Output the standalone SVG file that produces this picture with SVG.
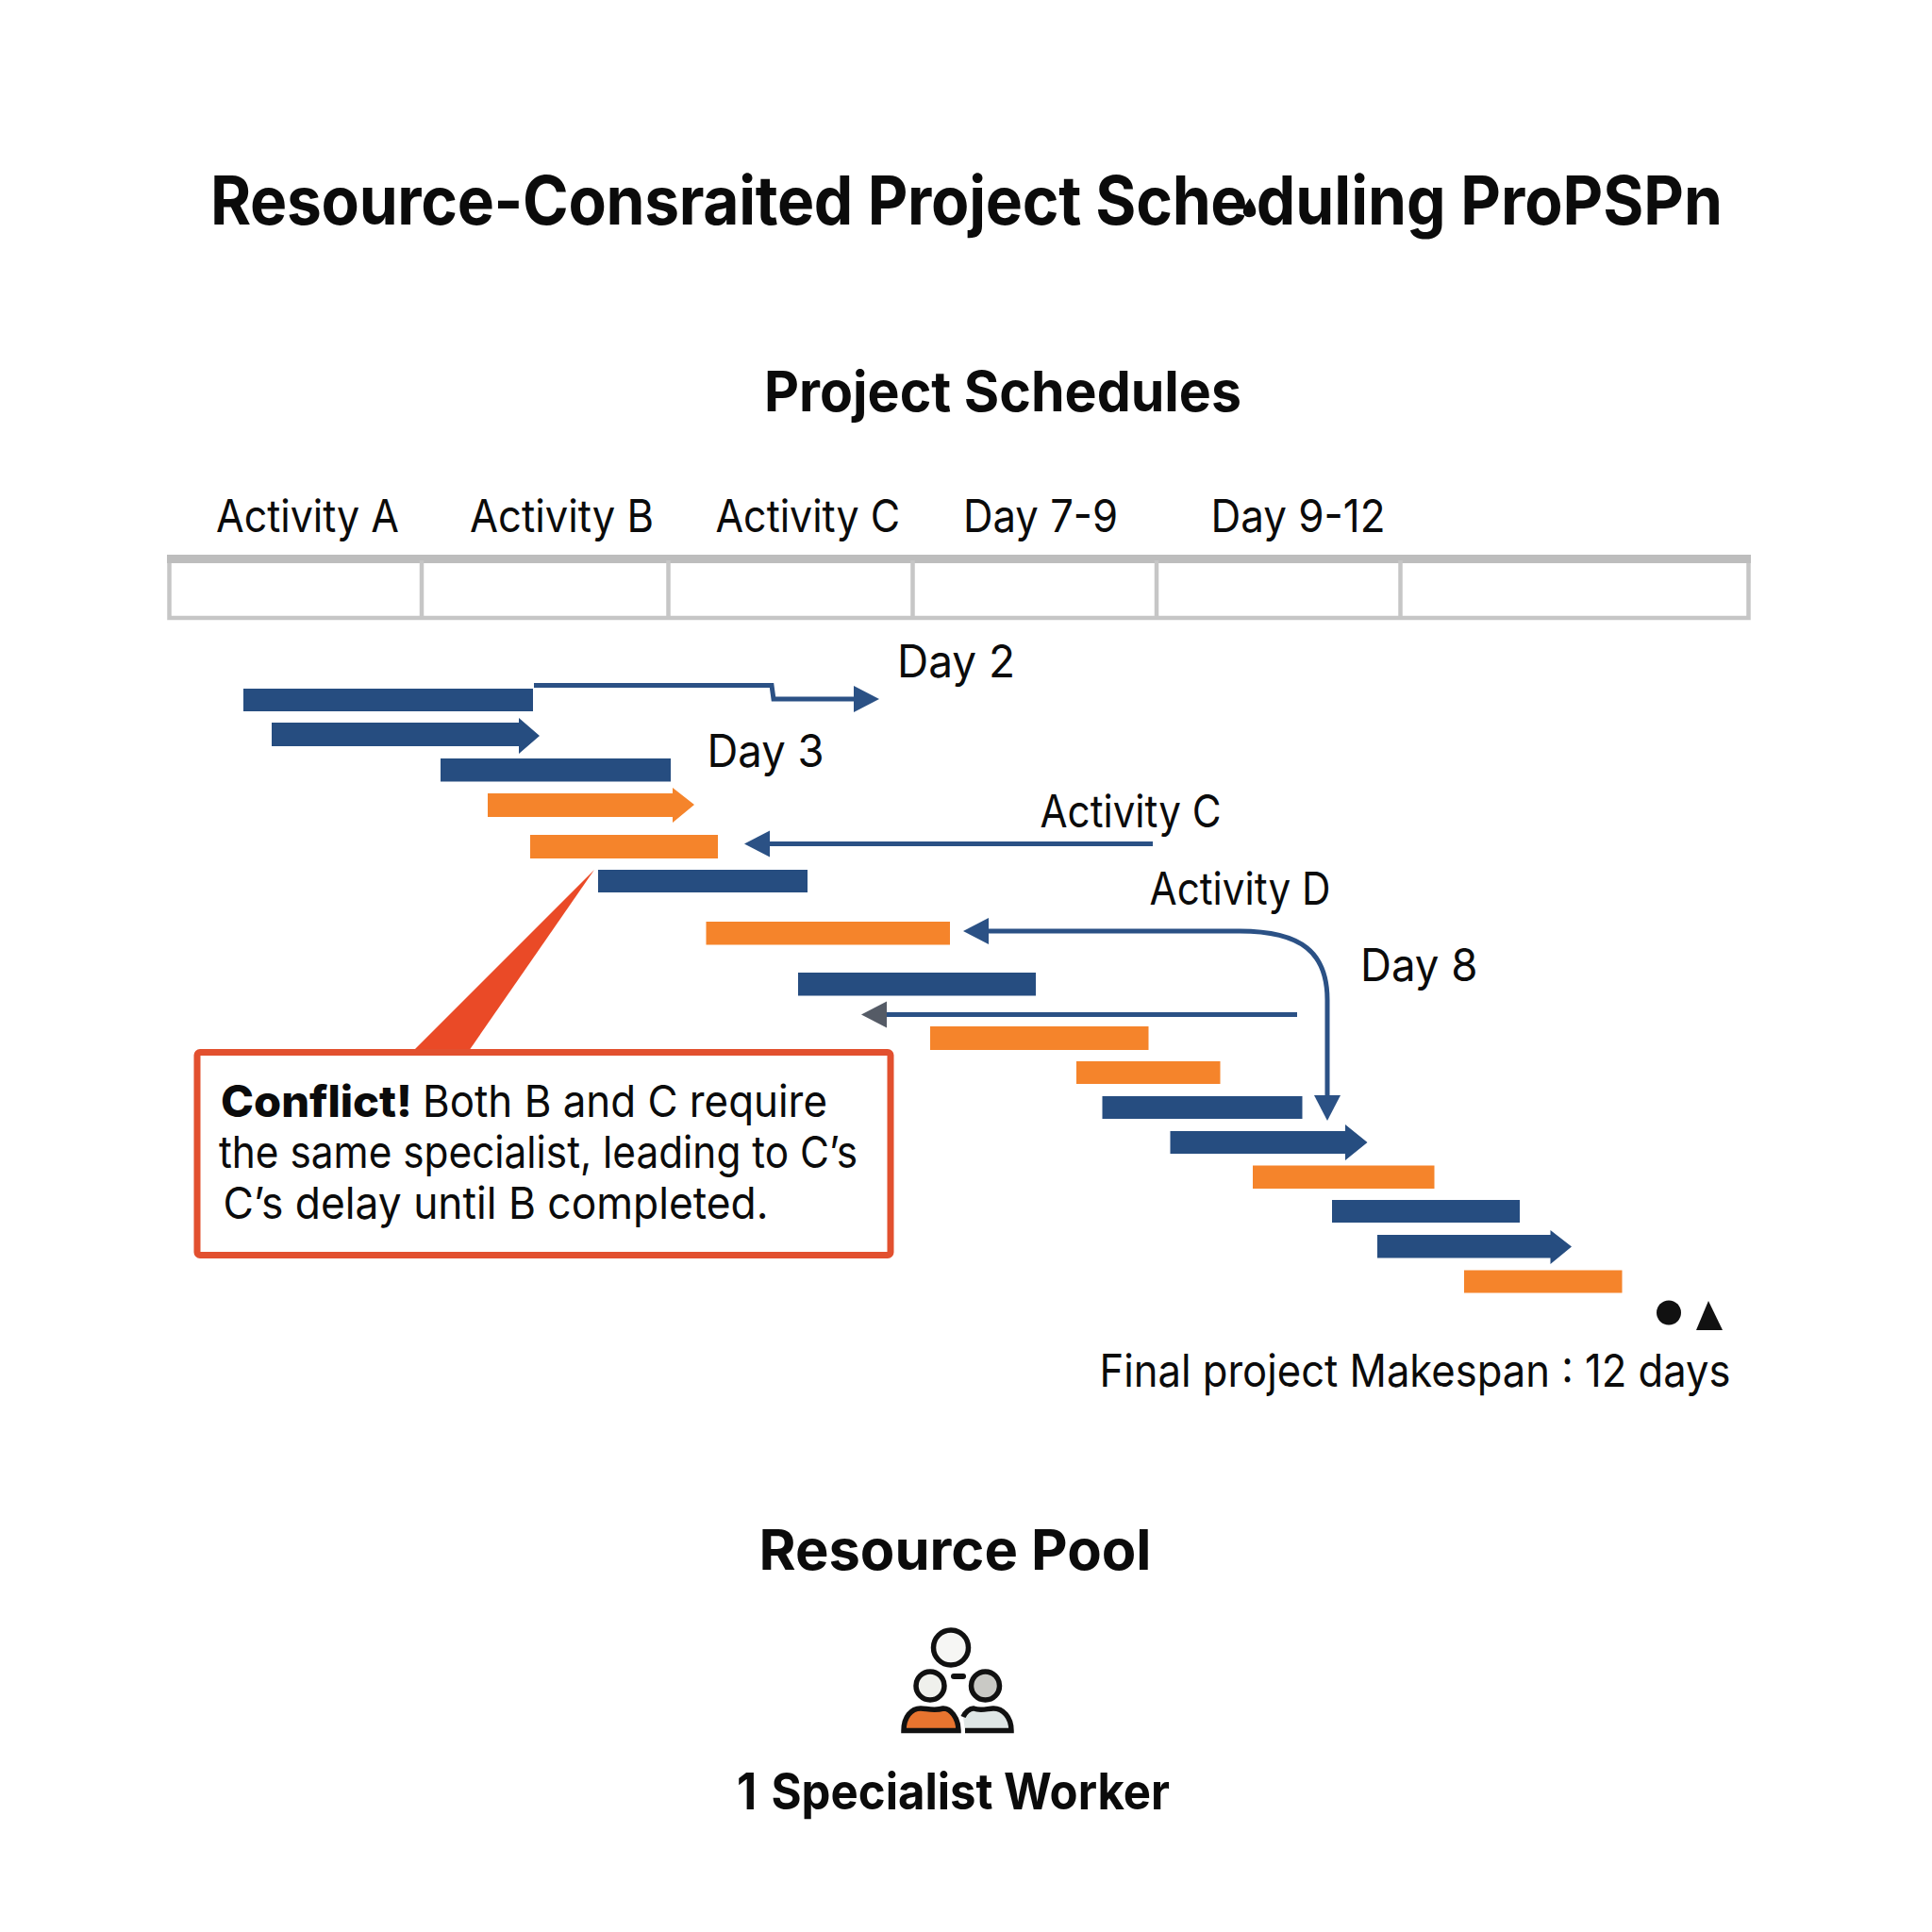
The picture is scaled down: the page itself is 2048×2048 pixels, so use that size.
<svg xmlns="http://www.w3.org/2000/svg" width="2048" height="2048" viewBox="0 0 2048 2048">
<style>
text{font-family:"Inter","Liberation Sans",sans-serif;fill:#0b0b0b}
.h1{font-size:71px;font-weight:700}
.h2{font-size:59px;font-weight:700}
.lb{font-size:48px;font-weight:400}
.ct{font-size:46.500px;font-weight:400}
.b{font-weight:800}
.blue{fill:#264d80}
.orange{fill:#f5842b}
.grid{fill:none;stroke:#c6c6c6;stroke-width:4.5}
.conn{fill:none;stroke:#2b5185;stroke-width:5}
.ic{stroke:#111;stroke-width:5.5}
</style>
<defs>
<marker id="ah" markerUnits="userSpaceOnUse" markerWidth="28" markerHeight="30" refX="1" refY="15" orient="auto"><path d="M0 1L27 15L0 29Z" fill="#2b5185"/></marker>
<marker id="ahg" markerUnits="userSpaceOnUse" markerWidth="28" markerHeight="30" refX="1" refY="15" orient="auto"><path d="M0 1L27 15L0 29Z" fill="#555b66"/></marker>
</defs>
<rect width="2048" height="2048" fill="#fff"/>
<g id="title">
<text class="h1" x="223" y="238" dx="0 -.35 -.35 -.35 -.35 -.35 -.35 -.35 -.35 -.35 -.35 -.35 -.35 -.35 -.35 -.35 -.35 -.35 -.35 0 -.3 -.3 -.3 -.3 -.3 -.3 -.3 -.3 -.3 -.3 -.3 -.3 10" textLength="1603" lengthAdjust="spacingAndGlyphs">Resource-Consraited Project Scheduling ProPSPn</text>
<path d="M1325 210C1330 218 1332 222 1331 226C1330 231 1320 232 1318 226C1317 222 1320 217 1325 210Z" fill="#0b0b0b"/>
</g>
<g id="schedule-title"><text class="h2" x="810" y="436" textLength="506" lengthAdjust="spacingAndGlyphs">Project Schedules</text></g>
<g id="timeline">
<rect class="grid" x="179.500" y="594" width="1674" height="61"/>
<rect x="177" y="588" width="1679" height="9" fill="#bdbdbd"/>
<path class="grid" d="M447 594V655M708.500 594V655M967.500 594V655M1226 594V655M1484.500 594V655"/>
<text class="lb" x="229" y="564" textLength="194" lengthAdjust="spacingAndGlyphs">Activity A</text>
<text class="lb" x="498" y="564" textLength="195" lengthAdjust="spacingAndGlyphs">Activity B</text>
<text class="lb" x="758.500" y="564" textLength="195.500" lengthAdjust="spacingAndGlyphs">Activity C</text>
<text class="lb" x="1021" y="564" textLength="164" lengthAdjust="spacingAndGlyphs">Day 7-9</text>
<text class="lb" x="1283.500" y="564" textLength="185" lengthAdjust="spacingAndGlyphs">Day 9-12</text>
</g>
<g id="connectors">
<path class="conn" d="M566 726.500H818L820 741H906" marker-end="url(#ah)"/>
<path class="conn" d="M1222 894.500H815" marker-end="url(#ah)"/>
<path class="conn" d="M1314 987H1047" marker-end="url(#ah)"/>
<path class="conn" d="M1314 987C1380 987 1407 1010 1407 1060V1162" marker-end="url(#ah)"/>
<path class="conn" d="M1375 1075.500H939" marker-end="url(#ahg)"/>
</g>
<g id="bars">
<g id="bar-1"><rect class="blue" x="258" y="730" width="307" height="24"/></g>
<g id="bar-2"><path class="blue" d="M288 766H550V761L572 780L550 799V791H288Z"/></g>
<g id="bar-3"><rect class="blue" x="467" y="804" width="244" height="24.500"/></g>
<g id="bar-4"><path class="orange" d="M517 841H713V835L736 853L713 872V866H517Z"/></g>
<g id="bar-5"><rect class="orange" x="562" y="885" width="199" height="25"/></g>
<g id="bar-6"><rect class="blue" x="634" y="922" width="222" height="24"/></g>
<g id="bar-7"><rect class="orange" x="748.500" y="977" width="258.500" height="24.500"/></g>
<g id="bar-8"><rect class="blue" x="846" y="1031" width="252" height="24.500"/></g>
<g id="bar-9"><rect class="orange" x="986" y="1088" width="231.500" height="25"/></g>
<g id="bar-10"><rect class="orange" x="1141" y="1125" width="152.500" height="24"/></g>
<g id="bar-11"><rect class="blue" x="1168.500" y="1162" width="212" height="24"/></g>
<g id="bar-12"><path class="blue" d="M1240.500 1199H1426V1192L1449.500 1211L1426 1230V1223H1240.500Z"/></g>
<g id="bar-13"><rect class="orange" x="1328" y="1235.500" width="192.500" height="24.500"/></g>
<g id="bar-14"><rect class="blue" x="1412" y="1272" width="199" height="24"/></g>
<g id="bar-15"><path class="blue" d="M1460 1309H1643.500V1304L1666 1321.500L1643.500 1340V1333.500H1460Z"/></g>
<g id="bar-16"><rect class="orange" x="1552" y="1346.500" width="167.500" height="24"/></g>
</g>
<g id="labels">
<text class="lb" x="951" y="718" textLength="125" lengthAdjust="spacingAndGlyphs">Day 2</text>
<text class="lb" x="749.500" y="813" textLength="124" lengthAdjust="spacingAndGlyphs">Day 3</text>
<text class="lb" x="1102.500" y="877" textLength="192" lengthAdjust="spacingAndGlyphs">Activity C</text>
<text class="lb" x="1218.500" y="959" textLength="192" lengthAdjust="spacingAndGlyphs">Activity D</text>
<text class="lb" x="1442" y="1040" textLength="124.500" lengthAdjust="spacingAndGlyphs">Day 8</text>
</g>
<g id="conflict-callout">
<path d="M630 922L497 1114H438Z" fill="#ea4a27"/>
<rect x="209" y="1115.500" width="735" height="215" rx="3" fill="#fff" stroke="#e2502f" stroke-width="7"/>
<text class="ct" y="1184"><tspan class="b" x="234" textLength="203" lengthAdjust="spacingAndGlyphs">Conflict!</tspan><tspan x="448" textLength="429" lengthAdjust="spacingAndGlyphs">Both B and C require</tspan></text>
<text class="ct" x="232" y="1238" textLength="677" lengthAdjust="spacingAndGlyphs">the same specialist, leading to C’s</text>
<text class="ct" x="236.500" y="1292" textLength="578" lengthAdjust="spacingAndGlyphs">C’s delay until B completed.</text>
</g>
<g id="makespan">
<circle cx="1769" cy="1391.500" r="13" fill="#111"/>
<path d="M1811 1379L1826 1410H1798Z" fill="#111"/>
<text class="lb" x="1165.500" y="1470" textLength="669" lengthAdjust="spacingAndGlyphs">Final project Makespan : 12 days</text>
</g>
<g id="resource-pool">
<text class="h2" x="804.500" y="1664" textLength="416" lengthAdjust="spacingAndGlyphs">Resource Pool</text>
<circle class="ic" cx="1008" cy="1746.500" r="18.500" fill="#f6f6f4"/>
<ellipse class="ic" cx="986" cy="1787" rx="15" ry="15" fill="#eff0ec"/>
<ellipse class="ic" cx="1044.500" cy="1787" rx="15" ry="15" fill="#c9c9c5"/>
<rect x="1008" y="1774" width="16" height="6" rx="3" fill="#111"/>
<path class="ic" d="M958 1834.500C958 1820 966 1811 976 1811C982 1811 990 1814 1000 1811C1007 1811 1016 1820 1016 1834.500Z" fill="#e8742f"/>
<path d="M1023 1834.500H1072C1072 1820 1063 1811 1053 1811C1047 1811 1040 1814 1032 1811C1028 1811 1023 1815 1021 1820" fill="#dfe6e5" stroke="#111" stroke-width="5.500"/>
<text style="font-size:53px" class="h2" x="781" y="1918" dx="0 0 4" textLength="459" lengthAdjust="spacingAndGlyphs">1 Specialist Worker</text>
</g>
</svg>
